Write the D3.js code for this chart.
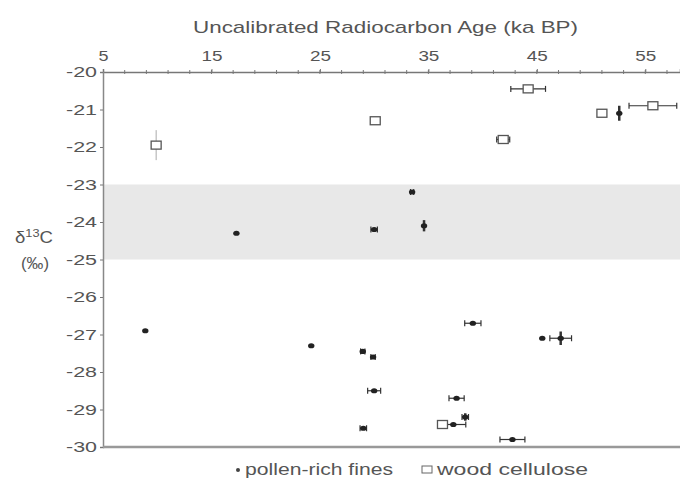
<!DOCTYPE html>
<html>
<head>
<meta charset="utf-8">
<script src="https://cdn.jsdelivr.net/npm/d3@7"></script>
<style>
  body { margin: 0; background: #fff; }
  svg { font-family: "Liberation Sans", Arial, sans-serif; }
</style>
</head>
<body>
<div id="chart"></div>
<script>
// ===========================
// d13C vs uncalibrated radiocarbon age
// ===========================

// pollen-rich fines: age (ka BP), age error, d13C, d13C error
const pollenAge    = [8.9, 17.3, 24.2, 30.0, 34.6, 33.5, 39.1, 45.5, 47.2, 28.95, 29.9, 30.0, 29.0, 37.6, 37.3, 38.4, 42.75, 52.6];
const pollenAgeErr = [0,   0,    0,    0.3,  0,    0.15, 0.75, 0,    1.0,  0.2,   0.2,  0.6,  0.3,  0.7,  1.15, 0.3,  1.15,  0];
const pollenD13C   = [-26.9, -24.3, -27.3, -24.2, -24.1, -23.2, -26.7, -27.1, -27.1, -27.45, -27.6, -28.5, -29.5, -28.7, -29.4, -29.2, -29.8, -21.1];
const pollenD13CErr = [0, 0, 0, 0, 0.15, 0, 0, 0, 0.18, 0, 0, 0, 0, 0, 0, 0.1, 0, 0.2];

// wood cellulose
const woodAge     = [9.9, 30.1, 41.9, 44.2, 51.0, 55.7, 36.3];
const woodAgeErr  = [0,   0.2,  0.6,  1.6,  0,    2.2,  0];
const woodD13C    = [-21.95, -21.3, -21.8, -20.45, -21.1, -20.9, -29.4];
const woodD13CErr = [0.4, 0, 0, 0, 0, 0, 0];

const xTicks = [5, 15, 25, 35, 45, 55];
const xMinorTicks = d3.range(7, 59, 2);
const yTicks = d3.range(-20, -31, -1);
const band = [-23, -25];   // shaded range

const W = 680, H = 486;
const svg = d3.select('#chart').append('svg').attr('width', W).attr('height', H);

const x = d3.scaleLinear().domain([5, 58.2]).range([103, 680]);
const y = d3.scaleLinear().domain([-20, -30]).range([72, 447]);

// the original figure is stretched sideways, so text widths are fitted with textLength
function fit(sel, len) {
    sel.attr('textLength', len).attr('lengthAdjust', 'spacingAndGlyphs');
}

// ── Shaded band ──
svg.append('rect')
    .attr('x', x(5)).attr('y', y(band[0]))
    .attr('width', x(58.2) - x(5))
    .attr('height', y(band[1]) - y(band[0]))
    .attr('fill', '#e8e8e8');

// ── Axes ──
const topAxis = svg.append('g')
    .attr('transform', `translate(0,${y(-20)})`)
    .call(d3.axisTop(x).tickValues(xTicks).tickSize(3).tickPadding(8));
topAxis.select('.domain').attr('stroke', '#777').attr('stroke-width', 1.5);
topAxis.selectAll('line').attr('stroke', '#777');
topAxis.selectAll('text')
    .style('font-size', '15px').attr('fill', '#555')
    .each(function (d) { fit(d3.select(this), d < 10 ? 10 : 21); });

svg.append('g').selectAll('line')
    .data(xMinorTicks)
    .join('line')
    .attr('x1', d => x(d)).attr('x2', d => x(d))
    .attr('y1', y(-20) - 2).attr('y2', y(-20) + 2)
    .attr('stroke', '#777');

const leftAxis = svg.append('g')
    .attr('transform', `translate(${x(5)},0)`)
    .call(d3.axisLeft(y).tickValues(yTicks).tickFormat(d => String(d)).tickSize(3).tickPadding(3));
leftAxis.select('.domain').attr('stroke', '#888').attr('stroke-width', 1.5);
leftAxis.selectAll('line').attr('stroke', '#777');
leftAxis.selectAll('text')
    .style('font-size', '15px').attr('fill', '#555')
    .call(fit, 31);

// bottom frame line
svg.append('line')
    .attr('x1', x(5)).attr('x2', W)
    .attr('y1', y(-30)).attr('y2', y(-30))
    .attr('stroke', '#999').attr('stroke-width', 2.5);

// ── Labels ──
svg.append('text')
    .attr('x', 193).attr('y', 33)
    .style('font-size', '17px')
    .attr('fill', '#555')
    .text('Uncalibrated Radiocarbon Age (ka BP)')
    .call(fit, 385);

const yLab = svg.append('text')
    .attr('x', 15).attr('y', 243)
    .style('font-size', '16px')
    .attr('fill', '#555');
yLab.append('tspan').text('δ');
yLab.append('tspan').attr('dy', -6).style('font-size', '11px').text('13');
yLab.append('tspan').attr('dy', 6).text('C');
fit(yLab, 38);

svg.append('text')
    .attr('x', 21).attr('y', 269)
    .style('font-size', '17px')
    .attr('fill', '#555')
    .text('(‰)')
    .call(fit, 28);

// ── Error bars ──
function errorBars(ages, ageErr, vals, valErr, vWidth, vColor) {
    const g = svg.append('g').attr('stroke', '#333').attr('stroke-width', 1.2);
    ages.forEach((a, i) => {
        if (ageErr[i] > 0) {
            g.append('line')
                .attr('x1', x(a - ageErr[i])).attr('x2', x(a + ageErr[i]))
                .attr('y1', y(vals[i])).attr('y2', y(vals[i]));
            [a - ageErr[i], a + ageErr[i]].forEach(e => {
                g.append('line')
                    .attr('x1', x(e)).attr('x2', x(e))
                    .attr('y1', y(vals[i]) - 3).attr('y2', y(vals[i]) + 3);
            });
        }
        if (valErr[i] > 0) {
            g.append('line')
                .attr('x1', x(a)).attr('x2', x(a))
                .attr('y1', y(vals[i] - valErr[i])).attr('y2', y(vals[i] + valErr[i]))
                .attr('stroke', vColor)
                .attr('stroke-width', vWidth);
        }
    });
}
errorBars(woodAge, woodAgeErr, woodD13C, woodD13CErr, 1, '#aaa');
errorBars(pollenAge, pollenAgeErr, pollenD13C, pollenD13CErr, 2.5, '#333');

// ── Wood cellulose squares ──
svg.append('g').selectAll('rect')
    .data(woodAge.map((a, i) => ({ a, v: woodD13C[i] })))
    .join('rect')
    .attr('x', d => x(d.a) - 5).attr('y', d => y(d.v) - 4)
    .attr('width', 10).attr('height', 8)
    .attr('fill', '#fff')
    .attr('stroke', '#555').attr('stroke-width', 1.3);

// ── Pollen-rich fines dots ──
svg.append('g').selectAll('ellipse')
    .data(pollenAge.map((a, i) => ({ a, v: pollenD13C[i] })))
    .join('ellipse')
    .attr('cx', d => x(d.a)).attr('cy', d => y(d.v))
    .attr('rx', 3.2).attr('ry', 2.6)
    .attr('fill', '#222');

// ── Legend ──
const legend = svg.append('g').attr('transform', 'translate(0,475)');
legend.append('circle').attr('cx', 238).attr('cy', -5).attr('r', 2).attr('fill', '#444');
legend.append('text').attr('x', 245).attr('y', 0)
    .style('font-size', '16px').attr('fill', '#555').text('pollen-rich fines')
    .call(fit, 148);
legend.append('rect').attr('x', 422).attr('y', -9).attr('width', 10).attr('height', 7)
    .attr('fill', '#fff').attr('stroke', '#666');
legend.append('text').attr('x', 437).attr('y', 0)
    .style('font-size', '16px').attr('fill', '#555').text('wood cellulose')
    .call(fit, 151);
</script>
</body>
</html>
